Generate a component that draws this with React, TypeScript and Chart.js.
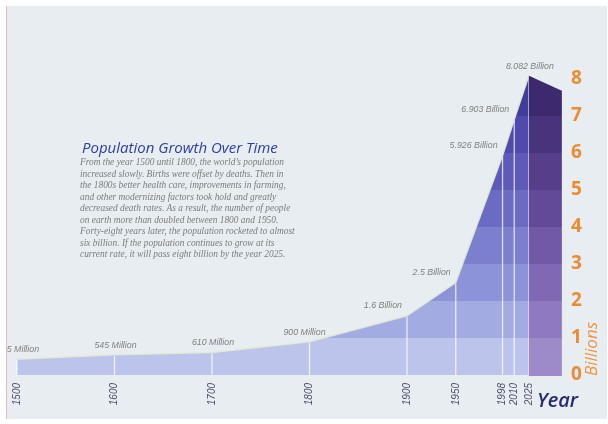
import React, { useEffect, useRef } from "react";
import { Chart, registerables } from "chart.js";

Chart.register(...registerables);

// ---- data ----
const years = [1500, 1600, 1700, 1800, 1900, 1950, 1998, 2010, 2025];
const populationBillions = [0.425, 0.545, 0.61, 0.9, 1.6, 2.5, 5.926, 6.903, 8.082];
const pointLabels = [
  "425 Million",
  "545 Million",
  "610 Million",
  "900 Million",
  "1.6 Billion",
  "2.5 Billion",
  "5.926 Billion",
  "6.903 Billion",
  "8.082 Billion",
];
const xTickLabels = ["1500", "1600", "1700", "1800", "1900", "1950", "1998", "2010", "2025"];
const yTickValues = [0, 1, 2, 3, 4, 5, 6, 7, 8];

const titleText = "Population Growth Over Time";
const bodyLines = [
  "From the year 1500 until 1800, the world\u2019s population",
  "increased slowly. Births were offset by deaths. Then in",
  "the 1800s better health care, improvements in farming,",
  "and other modernizing factors took hold and greatly",
  "decreased death rates. As a result, the number of people",
  "on earth more than doubled between 1800 and 1950.",
  "Forty-eight years later, the population rocketed to almost",
  "six billion. If the population continues to grow at its",
  "current rate, it will pass eight billion by the year 2025.",
];

// ---- styles ----
const frontBands = [
  "#bcc4ec",
  "#a2abe2",
  "#8d93d8",
  "#7b7fce",
  "#6b6bc4",
  "#5d5ab8",
  "#4f4aab",
  "#423c9a",
  "#342c82",
];
const sideBands = [
  "#9d8bc9",
  "#8f79c0",
  "#8068b4",
  "#7259a7",
  "#634a99",
  "#563e8b",
  "#49337c",
  "#3c296e",
  "#2f2060",
];

function bandGradient(ctx: CanvasRenderingContext2D, yScale: any, colors: string[]) {
  const base = yScale.getPixelForValue(0);
  const top = yScale.getPixelForValue(colors.length);
  const g = ctx.createLinearGradient(0, base, 0, top);
  const n = colors.length;
  colors.forEach((c, i) => {
    g.addColorStop(i / n, c);
    g.addColorStop(Math.min(1, (i + 1) / n - 0.0001), c);
  });
  return g;
}

const decorPlugin = {
  id: "decor",
  afterDatasetsDraw(chart: any) {
    const { ctx, scales } = chart;
    const xs = scales.x;
    const ys = scales.y;
    const base = ys.getPixelForValue(0);

    // white vertical lines at each data year
    ctx.save();
    ctx.strokeStyle = "rgba(255,255,255,0.75)";
    ctx.lineWidth = 1.3;
    years.forEach((yr, i) => {
      const px = xs.getPixelForValue(yr);
      const py = ys.getPixelForValue(populationBillions[i]);
      ctx.beginPath();
      ctx.moveTo(px, base);
      ctx.lineTo(px, py + 1);
      ctx.stroke();
    });
    ctx.restore();

    // 3D side face after the last point
    const last = populationBillions.length - 1;
    const x0 = xs.getPixelForValue(years[last]);
    const y0 = ys.getPixelForValue(populationBillions[last]);
    const depthX = 33;
    const depthY = 15;
    ctx.save();
    ctx.beginPath();
    ctx.moveTo(x0, y0);
    ctx.lineTo(x0 + depthX, y0 + depthY);
    ctx.lineTo(x0 + depthX, base + 1);
    ctx.lineTo(x0, base + 1);
    ctx.closePath();
    ctx.fillStyle = bandGradient(ctx, ys, sideBands);
    ctx.fill();
    ctx.restore();

    // point labels
    ctx.save();
    ctx.beginPath();
    ctx.rect(7, 0, 600, 424);
    ctx.clip();
    ctx.font = 'italic 8.8px "Liberation Sans"';
    ctx.fillStyle = "#808080";
    ctx.textBaseline = "bottom";
    years.forEach((yr, i) => {
      const px = xs.getPixelForValue(yr);
      const py = ys.getPixelForValue(populationBillions[i]);
      if (i <= 3 || i === last) {
        ctx.textAlign = "center";
        ctx.fillText(pointLabels[i], px + (i === 3 ? -5 : 1), py - 5);
      } else {
        ctx.textAlign = "right";
        ctx.fillText(pointLabels[i], px - 5, py - 6);
      }
    });
    ctx.restore();
  },
};

export default function App() {
  const canvasRef = useRef<HTMLCanvasElement | null>(null);

  useEffect(() => {
    const canvas = canvasRef.current;
    if (!canvas) return;
    const chart = new Chart(canvas, {
      type: "line",
      data: {
        datasets: [
          {
            label: "Population",
            data: years.map((yr, i) => ({ x: yr, y: populationBillions[i] })),
            fill: "origin",
            tension: 0,
            borderColor: "rgba(226,234,212,0.9)",
            borderWidth: 1.5,
            pointRadius: 0,
            backgroundColor: (context: any) => {
              const c = context.chart;
              if (!c.chartArea) return frontBands[0];
              return bandGradient(c.ctx, c.scales.y, frontBands);
            },
          },
        ],
      },
      options: {
        animation: false,
        responsive: false,
        devicePixelRatio: 1,
        layout: { padding: { left: 17, top: 53, right: 15, bottom: 15 } },
        plugins: {
          legend: { display: false },
          tooltip: { enabled: false },
          title: { display: false },
        },
        scales: {
          x: {
            type: "linear",
            min: 1500,
            max: 2060,
            grid: { display: false, drawTicks: false },
            border: { display: false },
            afterBuildTicks: (scale: any) => {
              scale.ticks = years.map((v) => ({ value: v }));
            },
            afterFit: (scale: any) => {
              scale.height = 34;
            },
            ticks: {
              autoSkip: false,
              minRotation: 90,
              maxRotation: 90,
              padding: 8,
              color: "#4f4b6d",
              font: { family: '"Liberation Sans"', size: 10, style: "italic" },
              callback: (value: any) => {
                const idx = years.indexOf(Number(value));
                return idx >= 0 ? xTickLabels[idx] : "";
              },
            },
          },
          y: {
            position: "right",
            min: 0,
            max: 8.7,
            grid: { display: false, drawTicks: false },
            border: { display: false },
            afterBuildTicks: (scale: any) => {
              scale.ticks = yTickValues.map((v) => ({ value: v }));
            },
            afterFit: (scale: any) => {
              scale.width = 30;
            },
            ticks: {
              padding: 8,
              color: "#ec8b33",
              font: { family: '"Open Sans"', size: 19, weight: "bold" },
              callback: (value: any) => String(value),
            },
          },
        },
      },
      plugins: [decorPlugin],
    } as any);
    return () => chart.destroy();
  }, []);

  return (
    <div style={{ position: "fixed", left: 0, top: 0, width: 608, height: 424, background: "#ffffff", overflow: "hidden" }}>
      <div
        style={{
          position: "absolute",
          left: 6,
          top: 6,
          width: 600,
          height: 413,
          background: "#e7edf0",
          borderLeft: "1px solid #e6b9b9",
        }}
      />
      <canvas ref={canvasRef} width={608} height={424} style={{ position: "absolute", left: 0, top: 0 }} />
      <div
        style={{
          position: "absolute",
          left: 82,
          top: 137,
          fontFamily: '"Open Sans"',
          fontStyle: "italic",
          fontSize: 15,
          color: "#2b3f9f",
          whiteSpace: "nowrap",
          lineHeight: "20px",
        }}
      >
        {titleText}
      </div>
      <div
        style={{
          position: "absolute",
          left: 80,
          top: 157,
          fontFamily: '"Liberation Serif"',
          fontStyle: "italic",
          fontSize: 9.4,
          lineHeight: "11.5px",
          color: "#7c7c7c",
          whiteSpace: "pre",
        }}
      >
        {bodyLines.join("\n")}
      </div>
      <div
        style={{
          position: "absolute",
          left: 537,
          top: 387,
          fontFamily: '"Open Sans"',
          fontStyle: "italic",
          fontWeight: 600,
          fontSize: 20,
          lineHeight: "26px",
          color: "#2b2a6e",
          whiteSpace: "nowrap",
        }}
      >
        Year
      </div>
      <div
        style={{
          position: "absolute",
          left: 591,
          top: 349,
          transform: "translate(-50%, -50%) rotate(-90deg)",
          fontFamily: '"Open Sans"',
          fontStyle: "italic",
          fontSize: 17,
          lineHeight: "20px",
          color: "#ef9440",
          whiteSpace: "nowrap",
        }}
      >
        Billions
      </div>
    </div>
  );
}
